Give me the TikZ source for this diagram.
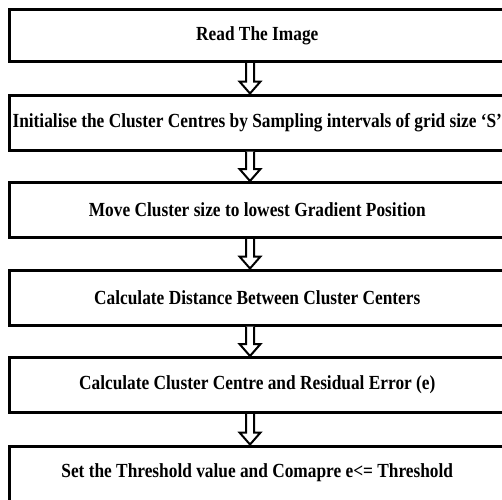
\documentclass[tikz,border=0pt]{standalone}
\usepackage{fontspec}
\setmainfont{Liberation Serif}[FakeStretch=0.866]
\usetikzlibrary{calc}
\tikzset{
  stepbox/.style={draw=black, line width=3pt, minimum width=495.5pt, minimum height=55pt, inner sep=0pt, font=\fontsize{20}{23}\selectfont\bfseries},
  hollowarrow/.style={draw=black, fill=white, line width=2pt, line join=miter}
}
\newcommand{\flowarrow}[2]{%
  \coordinate (s) at (#1.south -| 250,0);
  \coordinate (t) at (#2.north -| 250,0);
  \filldraw[hollowarrow] ($(s)+(-4,0)$) -- ($(t)+(-4,-12)$) -- ($(t)+(-10.5,-12)$) -- (t) -- ($(t)+(10.5,-12)$) -- ($(t)+(4,-12)$) -- ($(s)+(4,0)$);
}
\begin{document}
\begin{tikzpicture}[x=1pt,y=-1pt]
\useasboundingbox (0,0) rectangle (502,499);
\clip (0,0) rectangle (502,499);
\fill[white] (0,0) rectangle (502,499);
\node[stepbox, minimum height=52pt] (b1) at (257.25,35.5) {Read The Image};
\node[stepbox] (b2) at (257.25,122.5) {Initialise the Cluster Centres by Sampling intervals of grid size ‘S’};
\node[stepbox] (b3) at (257.25,210) {Move Cluster size to lowest Gradient Position};
\node[stepbox] (b4) at (257.25,297.5) {Calculate Distance Between Cluster Centers};
\node[stepbox] (b5) at (257.25,385) {Calculate Cluster Centre and Residual Error (e)};
\node[stepbox, minimum height=72pt, text depth=0pt] (b6) at (257.25,482) {};
\node[font=\fontsize{20}{23}\selectfont\bfseries, inner sep=0pt] (t6) at (257.25,473) {Set the Threshold value and Comapre e<= Threshold};
\flowarrow{b1}{b2}
\flowarrow{b2}{b3}
\flowarrow{b3}{b4}
\flowarrow{b4}{b5}
\flowarrow{b5}{b6}
\end{tikzpicture}
\end{document}
